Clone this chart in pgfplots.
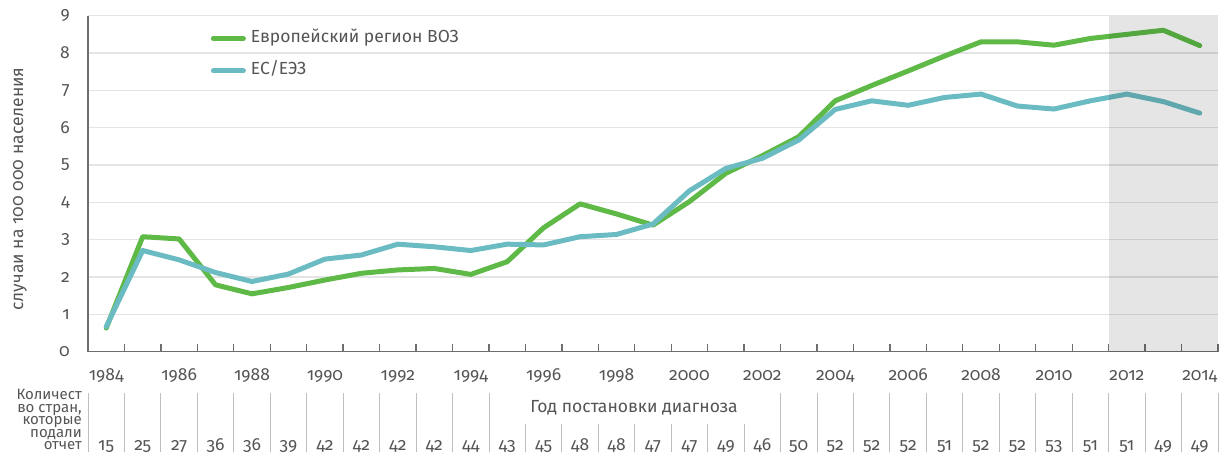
\documentclass[border=0pt]{standalone}
\usepackage{fontspec}
\setmainfont{Fira Sans}[Numbers=OldStyle]
\usepackage{pgfplots}
\pgfplotsset{compat=1.18}
\usepackage{pgfplotstable}
\definecolor{whogreen}{RGB}{94,185,71}
\definecolor{whoteal}{RGB}{107,188,194}
\definecolor{txt}{RGB}{85,85,85}
\definecolor{axisgray}{RGB}{110,110,110}
\definecolor{gridgray}{RGB}{228,228,228}
\definecolor{sepgray}{RGB}{190,190,190}

\pgfplotstableread{
year who eu n
1984 0.63 0.67 15
1985 3.08 2.71 25
1986 3.02 2.46 27
1987 1.79 2.12 36
1988 1.55 1.88 36
1989 1.72 2.08 39
1990 1.92 2.48 42
1991 2.10 2.59 42
1992 2.19 2.88 42
1993 2.23 2.81 42
1994 2.07 2.71 44
1995 2.41 2.88 43
1996 3.32 2.86 45
1997 3.96 3.08 48
1998 3.69 3.14 48
1999 3.39 3.42 47
2000 4.02 4.31 47
2001 4.78 4.91 49
2002 5.25 5.18 46
2003 5.76 5.67 50
2004 6.72 6.49 52
2005 7.13 6.72 52
2006 7.52 6.60 52
2007 7.92 6.81 51
2008 8.30 6.90 52
2009 8.30 6.58 52
2010 8.21 6.50 53
2011 8.39 6.72 51
2012 8.50 6.90 51
2013 8.61 6.70 49
2014 8.20 6.39 49
}\data

\newcommand\mfont{\fontsize{17.5}{20}\selectfont}
\newcommand\tfont{\fontsize{15}{12.5}\selectfont\lineskiplimit=-20pt\relax}

\begin{document}
\begin{tikzpicture}[x=1pt,y=1pt]
\path[use as bounding box] (0,0) rectangle (1221,457);
\begin{axis}[
  at={(88pt,105.3pt)}, anchor=south west,
  scale only axis, width=1130pt, height=336pt,
  xmin=1983.5, xmax=2014.5, ymin=0, ymax=9,
  axis lines*=left,
  axis line style={axisgray, line width=1.3pt},
  clip=false,
  tick align=inside,
  major tick length=0pt,
  minor tick length=8pt,
  xtick={1984,1986,...,2014},
  xticklabels={1984,1986,1988,1990,1992,1994,1996,1998,2000,2002,2004,2006,2008,2010,2012,2014},
  minor xtick={1984.5,1985.5,...,2014.5},
  minor tick style={axisgray, line width=1.3pt},
  ytick={0,1,...,9},
  ymajorgrids,
  major grid style={gridgray, line width=1.2pt},
  /pgf/number format/assume math mode=true,
  xticklabel style={anchor=base, yshift=-29pt, text=txt, font=\mfont},
  yticklabel style={anchor=east, inner sep=0pt, xshift=-18pt, text=txt, font=\mfont},
  legend image code/.code={\draw[#1, line cap=round] (2.5pt,0pt) -- (32.5pt,0pt);},
  legend style={draw=none, fill=none, at={(axis cs:1986.866,8.62)}, anchor=north west,
    inner sep=0pt, row sep=15.3pt, column sep=5pt, font=\mfont, text=txt,
    nodes={inner sep=0pt, text height=12.5pt, text depth=4.5pt}},
  legend cell align=left,
]
\addplot[whogreen, line width=5pt, line cap=round, line join=round] table[x=year,y=who]{\data};
\addlegendentry{Европейский регион ВОЗ}
\addplot[whoteal, line width=5pt, line cap=round, line join=round] table[x=year,y=eu]{\data};
\addlegendentry{ЕС/ЕЭЗ}
\addplot[draw=none, forget plot, nodes near coords, point meta=explicit symbolic,
  nodes near coords style={anchor=base, text=txt, font=\mfont, inner sep=0pt}]
  table[x=year, y expr=-2.647, meta=n]{\data};
\fill[black, fill opacity=0.1] (axis cs:2011.5,0) rectangle (axis cs:2014.5,9);
\end{axis}
\foreach \k in {0,...,31}{
  \pgfmathsetmacro\xx{88+1130/31*\k}
  \ifnum\k>11 \ifnum\k<19
    \draw[sepgray, line width=0.9pt] (\xx,5) -- (\xx,33);
  \else
    \draw[sepgray, line width=0.9pt] (\xx,5) -- (\xx,64);
  \fi\else
    \draw[sepgray, line width=0.9pt] (\xx,5) -- (\xx,64);
  \fi
}
\node[anchor=base, text=txt, font=\mfont, inner sep=0pt] at (634,44) {Год постановки диагноза};
\node[anchor=base east, align=right, text=txt, inner sep=0pt, font=\tfont] at (82,7)
  {Количест\\во стран,\\которые\\подали\\отчет};
\node[rotate=90, anchor=center, text=txt, font=\mfont, inner sep=0pt] at (20,268)
  {случаи на 100 000 населения};
\end{tikzpicture}
\end{document}
